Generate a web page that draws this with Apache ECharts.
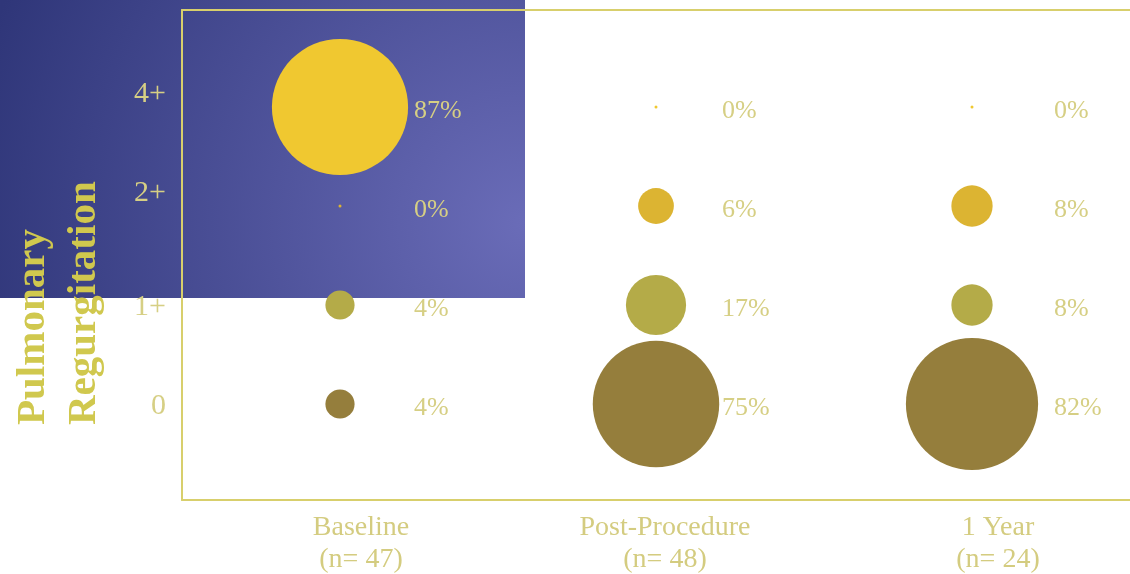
<!DOCTYPE html>
<html>
<head>
<meta charset="utf-8">
<script src="https://cdn.jsdelivr.net/npm/echarts@6/dist/echarts.min.js"></script>
<style>html,body{margin:0;padding:0;background:#fff;}#c{width:1130px;height:574px;}</style>
</head>
<body>
<div id="c"></div>
<script>
const categories = ['Baseline\n(n= 47)', 'Post-Procedure\n(n= 48)', '1 Year\n(n= 24)'];
const gradeLabels = ['0', '1+', '2+', '4+'];
const grade0 = [4, 75, 82];
const grade1 = [4, 17, 8];
const grade2 = [0, 6, 8];
const grade4 = [87, 0, 0];
const yAxisTitle = 'Pulmonary\nRegurgitation';

const rowColors = ['#957e3c', '#b4ab48', '#dcb432', '#f0c830'];
const labelDx = [74, 66, 82];
const catShift = [42, 18, 52];
const serif = '"Liberation Serif", "DejaVu Serif", serif';
const rows = [grade0, grade1, grade2, grade4];
const txtColor = '#d6cf84';
const frameColor = '#d8cf6c';

function makeSeries(vals, rowIdx) {
  return {
    type: 'scatter',
    z: 5,
    data: vals.map((v, i) => ({
      value: [i, rowIdx, v],
      label: { offset: [labelDx[i], 4] }
    })),
    symbolSize: d => Math.max(3, 14.6 * Math.sqrt(d[2])),
    itemStyle: { color: rowColors[rowIdx], opacity: 1 },
    label: {
      show: true,
      position: 'inside',
      align: 'left',
      formatter: p => p.value[2] + '%',
      color: txtColor,
      fontFamily: serif,
      fontSize: 26
    },
    emphasis: { disabled: true }
  };
}

const xRich = {};
catShift.forEach((s, i) => {
  xRich['c' + i] = { color: '#d4cc80', fontFamily: serif, fontSize: 28, lineHeight: 32, padding: [0, 0, 0, s] };
});

const chart = echarts.init(document.getElementById('c'));
chart.setOption({
  animation: false,
  backgroundColor: '#ffffff',
  graphic: [
    {
      type: 'rect', z: -10,
      shape: { x: 0, y: 0, width: 525, height: 298 },
      style: {
        fill: {
          type: 'radial', x: 1.0, y: 0.75, r: 1.9,
          colorStops: [
            { offset: 0, color: '#6a6cb8' },
            { offset: 1, color: '#2f3679' }
          ]
        }
      }
    },
    {
      type: 'text', z: 10,
      x: 8, y: 425, rotation: Math.PI / 2,
      style: {
        text: yAxisTitle,
        font: 'bold 41px ' + serif,
        fill: '#d0c84e',
        align: 'left', verticalAlign: 'top',
        lineHeight: 51
      }
    }
  ],
  grid: {
    left: 182, right: 0, top: 10, bottom: 74,
    show: false
  },
  xAxis: [
    {
      type: 'category',
      data: categories,
      boundaryGap: true,
      position: 'bottom',
      axisLine: { show: true, onZero: false, lineStyle: { color: frameColor, width: 2 } },
      axisTick: { show: false },
      splitLine: { show: false },
      axisLabel: {
        margin: 12,
        formatter: (v, i) => v.split('\n').map(s => '{c' + i + '|' + s + '}').join('\n'),
        rich: xRich
      }
    },
    {
      type: 'category',
      data: categories,
      position: 'top',
      axisLine: { show: true, onZero: false, lineStyle: { color: frameColor, width: 2 } },
      axisTick: { show: false },
      axisLabel: { show: false },
      splitLine: { show: false }
    }
  ],
  yAxis: {
    type: 'value',
    min: -0.97, max: 3.98, splitNumber: 5,
    axisLine: { show: true, onZero: false, lineStyle: { color: frameColor, width: 2 } },
    axisTick: { show: false },
    splitLine: { show: false },
    axisLabel: {
      margin: 16,
      showMinLabel: false,
      showMaxLabel: false,
      formatter: v => {
        if (!Number.isInteger(v) || v < 0 || v > 3) return '';
        return v >= 2 ? '{up|' + gradeLabels[v] + '}' : '{n|' + gradeLabels[v] + '}';
      },
      rich: {
        up: { color: txtColor, fontFamily: serif, fontSize: 30, padding: [5, 0, 31, 0] },
        n: { color: txtColor, fontFamily: serif, fontSize: 30, padding: [5, 0, 0, 0] }
      }
    }
  },
  series: rows.map((r, i) => makeSeries(r, i))
});
</script>
</body>
</html>
